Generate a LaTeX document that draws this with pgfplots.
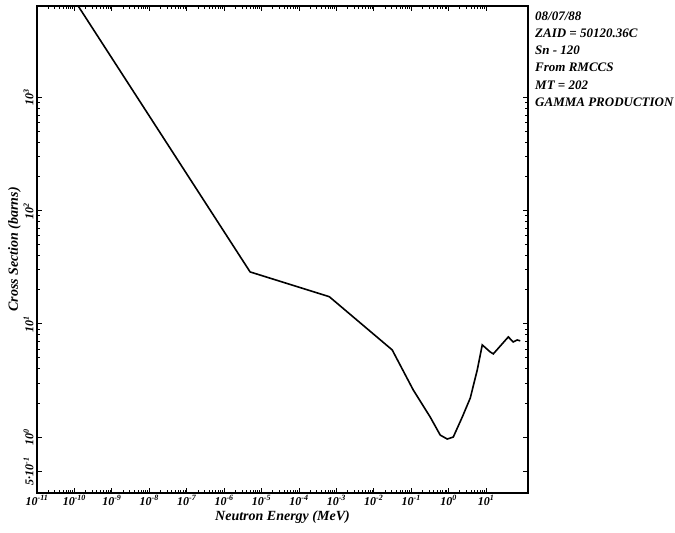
\documentclass[border=0pt]{standalone}
\usepackage{fontspec}
\setmainfont{Liberation Serif}
\usepackage{pgfplots}
\pgfplotsset{compat=1.18}
\begin{document}
\begin{tikzpicture}
\useasboundingbox (-37pt,-40pt) rectangle (638pt,493pt);
\begin{axis}[
  at={(0,0)}, anchor=south west,
  scale only axis, width=491pt, height=487pt,
  xmode=log, ymode=log,
  xmin=1e-11, xmax=132, ymin=0.32, ymax=6460,
  axis line style={line width=1.5pt},
  xtick={1e-11,1e-10,1e-9,1e-8,1e-7,1e-6,1e-5,1e-4,1e-3,1e-2,1e-1,1,10},
  xticklabels={10\textsuperscript{-11},10\textsuperscript{-10},10\textsuperscript{-9},10\textsuperscript{-8},10\textsuperscript{-7},10\textsuperscript{-6},10\textsuperscript{-5},10\textsuperscript{-4},10\textsuperscript{-3},10\textsuperscript{-2},10\textsuperscript{-1},10\textsuperscript{0},10\textsuperscript{1}},
  ytick={1,10,100,1000},
  yticklabels={10\textsuperscript{0},10\textsuperscript{1},10\textsuperscript{2},10\textsuperscript{3}},
  extra y ticks={0.5}, extra y tick labels={5{\textperiodcentered}10\textsuperscript{-1}},
  major tick length=5pt, minor tick length=3pt,
  every tick/.style={line width=0.9pt, black},
  tick label style={font=\fontsize{12}{12}\selectfont\bfseries\itshape},
  xticklabel style={yshift=1pt},
  yticklabel style={rotate=90, anchor=south},
  xlabel={\bfseries\itshape Neutron Energy (MeV)},
  ylabel={\bfseries\itshape Cross Section (barns)},
  label style={font=\fontsize{14}{14}\selectfont},
  xlabel style={yshift=1pt},
  ylabel style={yshift=-4pt},
  clip=true,
]
\addplot[black, line width=1.6pt] coordinates {
 (1e-11, 23400)
 (1.26e-10, 6460)
 (4.95e-6, 28.8)
 (6.46e-4, 17.4)
 (3.10e-2, 5.89)
 (0.113, 2.61)
 (0.322, 1.50)
 (0.596, 1.04)
 (0.918, 0.96)
 (1.33, 1.0)
 (2.31, 1.50)
 (3.78, 2.21)
 (5.82, 3.92)
 (7.91, 6.52)
 (12.9, 5.65)
 (15.6, 5.43)
 (39.3, 7.67)
 (53.3, 6.93)
 (68.2, 7.21)
 (82.0, 7.08)
};
\end{axis}
\begin{scope}[every node/.style={anchor=base west, inner sep=0pt, font=\fontsize{13}{13}\selectfont\bfseries\itshape}]
\node at (498pt,472pt) {08/07/88};
\node at (498pt,455pt) {ZAID = 50120.36C};
\node at (498pt,438pt) {Sn - 120};
\node at (498pt,421pt) {From RMCCS};
\node at (498pt,403pt) {MT = 202};
\node at (498pt,386pt) {GAMMA PRODUCTION};
\end{scope}
\end{tikzpicture}
\end{document}
